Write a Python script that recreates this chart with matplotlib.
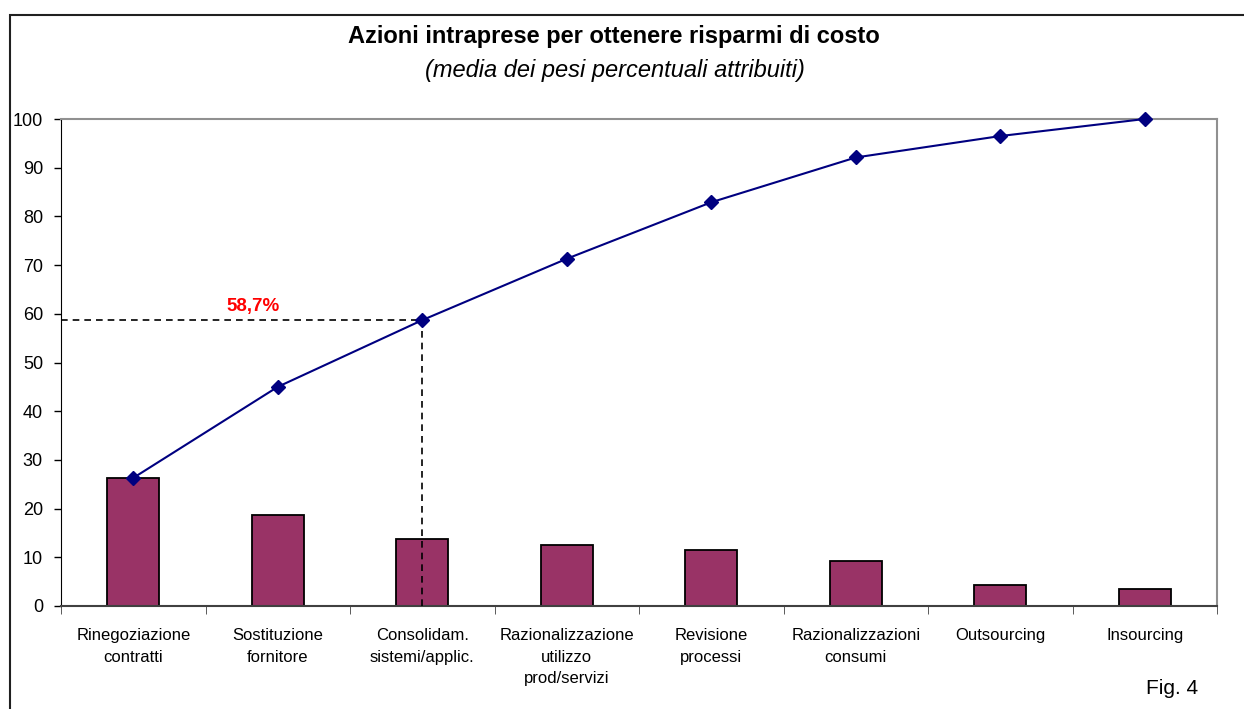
import numpy as np
import matplotlib
matplotlib.use("Agg")
import matplotlib.pyplot as plt
from matplotlib.patches import Rectangle

plt.rcParams['font.family'] = ['Liberation Sans', 'DejaVu Sans']

# dati
categorie = ["Rinegoziazione\ncontratti", "Sostituzione\nfornitore",
             "Consolidam.\nsistemi/applic.", "Razionalizzazione\nutilizzo\nprod/servizi",
             "Revisione\nprocessi", "Razionalizzazioni\nconsumi", "Outsourcing", "Insourcing"]
pesi = [26.3, 18.7, 13.7, 12.6, 11.6, 9.2, 4.4, 3.5]
cumulata = [26.3, 45.0, 58.7, 71.3, 82.9, 92.1, 96.5, 100.0]
soglia_idx = 2
soglia_label = "58,7%"

fig = plt.figure(figsize=(12.44, 7.09), dpi=100)
ax = fig.add_axes([61/1244, 1-606/709, (1217-61)/1244, (606-119)/709])

x = np.arange(len(categorie))
ax.bar(x, pesi, width=0.36, color='#993366', edgecolor='black', linewidth=1.3, zorder=2)
ax.plot(x, cumulata, color='#000080', linewidth=1.5, marker='D', markersize=7,
        markerfacecolor='#000080', markeredgecolor='#000080', zorder=4, clip_on=False)

# linee tratteggiate di riferimento
yv = cumulata[soglia_idx]
ax.plot([-0.5, x[soglia_idx]], [yv, yv], color='black', linestyle=(0, (4, 3)), linewidth=1.2, zorder=3)
ax.plot([x[soglia_idx], x[soglia_idx]], [0, yv], color='black', linestyle=(0, (4, 3)), linewidth=1.2, zorder=3)
ax.text(0.83, 61.6, soglia_label, color='red', fontsize=13.5, fontweight='bold', ha='center', va='center')

ax.set_xlim(-0.5, len(categorie) - 0.5)
ax.set_ylim(0, 100)
ax.set_yticks(range(0, 101, 10))
ax.tick_params(axis='y', labelsize=13, length=5, direction='out', pad=8, width=1)
ax.set_xticks(x)
ax.set_xticklabels(categorie, fontsize=12, linespacing=1.55)
ax.tick_params(axis='x', length=0, pad=16)
ax.set_xticks(np.arange(-0.5, len(categorie)), minor=True)
ax.tick_params(axis='x', which='minor', length=6, direction='out', color='#404040')

ax.spines['left'].set_color('black')
ax.spines['bottom'].set_color('#404040')
ax.spines['bottom'].set_linewidth(1.5)
ax.spines['top'].set_color('#909090')
ax.spines['right'].set_color('#909090')
ax.spines['top'].set_linewidth(1.5)
ax.spines['right'].set_linewidth(1.5)

fig.text(614/1244, 1-36/709, "Azioni intraprese per ottenere risparmi di costo",
         fontsize=17, fontweight='bold', ha='center', va='center')
fig.text(615/1244, 1-71/709, "(media dei pesi percentuali attribuiti)",
         fontsize=17, fontstyle='italic', ha='center', va='center')
fig.text(1172/1244, 1-688/709, "Fig. 4", fontsize=15, ha='center', va='center')

# cornice
fig.add_artist(Rectangle((10/1244, -0.05), 1.1, 1 - 15/709 + 0.05, transform=fig.transFigure,
                         fill=False, edgecolor='#202020', linewidth=1.5))

fig.savefig("out.png", dpi=100)
